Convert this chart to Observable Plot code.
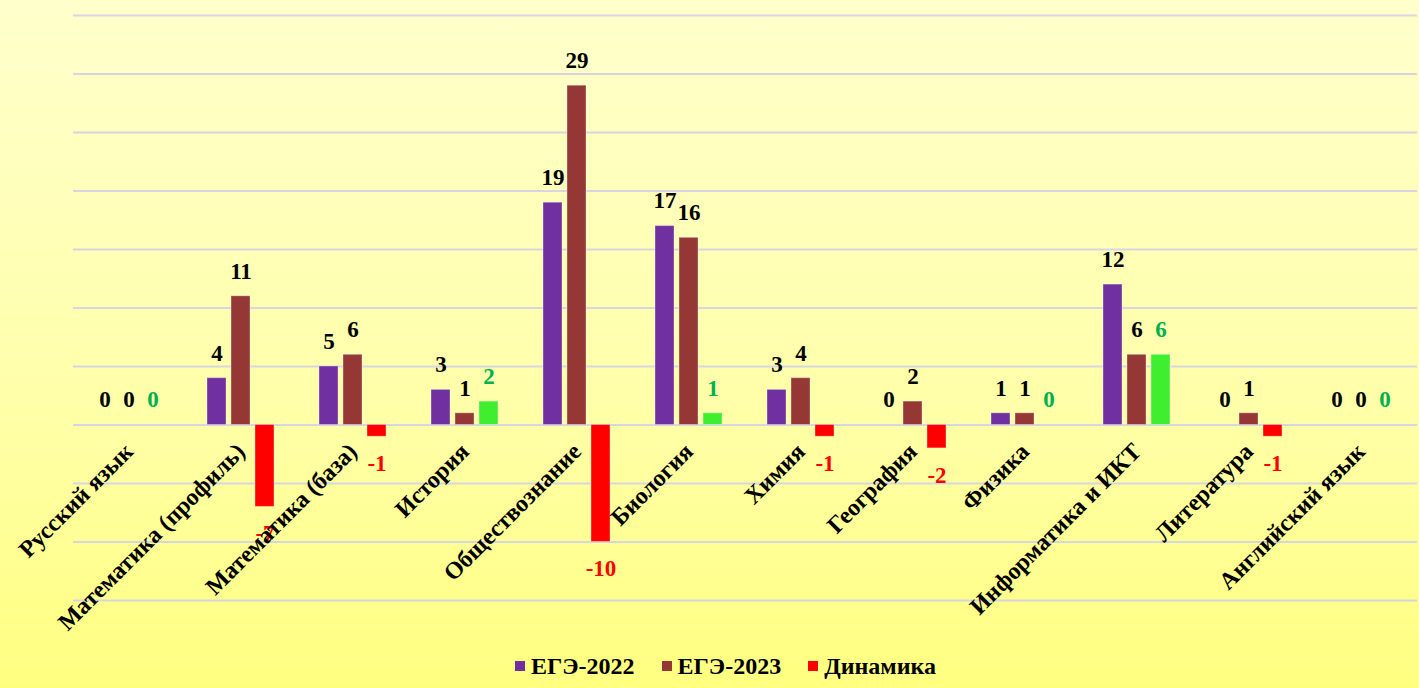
<!DOCTYPE html>
<html>
<head>
<meta charset="utf-8">
<script src="https://cdn.jsdelivr.net/npm/d3@7"></script>
<script src="https://cdn.jsdelivr.net/npm/@observablehq/plot@0.6"></script>
<style>
  html, body { margin: 0; padding: 0; }
  body {
    width: 1419px; height: 688px; overflow: hidden;
    background: linear-gradient(to bottom, #FFFFCC 0%, #FFFFA8 60%, #FFFF80 100%);
  }
  #chart svg { display: block; background: transparent; }
  #legend {
    display: flex; justify-content: center; align-items: center;
    height: 44px; padding-left: 32px; gap: 27px;
  }
  #legend .item { display: flex; align-items: center; gap: 6px; }
  #legend .sw { width: 10px; height: 10px; display: inline-block; }
  #legend .lt { font-family: 'Liberation Serif', serif; font-weight: 700; font-size: 24px; color: #000; }
</style>
</head>
<body>
<div id="chart"></div>
<div id="legend"></div>
<script>
const categories = [
  "Русский язык", "Математика (профиль)", "Математика (база)", "История",
  "Обществознание", "Биология", "Химия", "География", "Физика",
  "Информатика и ИКТ", "Литература", "Английский язык"
];
const seriesNames = ["ЕГЭ-2022", "ЕГЭ-2023", "Динамика"];
const ege2022 = [0, 4, 5, 3, 19, 17, 3, 0, 1, 12, 0, 0];
const ege2023 = [0, 11, 6, 1, 29, 16, 4, 2, 1, 6, 1, 0];
const dinamika = [0, -7, -1, 2, -10, 1, -1, -2, 0, 6, -1, 0];
const gridValues = [-15, -10, -5, 0, 5, 10, 15, 20, 25, 30, 35];

const seriesValues = [ege2022, ege2023, dinamika];
const table = [];
categories.forEach((c, i) => {
  seriesNames.forEach((s, j) => table.push({category: c, series: s, value: seriesValues[j][i]}));
});

const barColor = {"ЕГЭ-2022": "#7030A0", "ЕГЭ-2023": "#953735"};
const fillFor = d => d.series === "Динамика" ? (d.value < 0 ? "#FF0000" : "#40EE30") : barColor[d.series];
const textFor = d => d.series === "Динамика" ? (d.value < 0 ? "#FF0000" : "#00B050") : "#000000";

const chart = Plot.plot({
  width: 1419,
  height: 644,
  marginTop: 15,
  marginBottom: 44,
  marginLeft: 71,
  marginRight: 0,
  style: {background: "transparent", fontFamily: "'Liberation Serif', serif"},
  fx: {domain: categories, padding: 0, axis: null},
  x: {domain: seriesNames, paddingInner: 0.2, paddingOuter: 0.85, axis: null},
  y: {domain: [-15, 35], axis: null},
  color: {type: "identity"},
  marks: [
    Plot.ruleY(gridValues, {stroke: "#D6D6E2", strokeWidth: 2}),
    Plot.barY(table, {fx: "category", x: "series", y: "value", fill: fillFor,
      stroke: "#ffffff", strokeOpacity: 0.35, strokeWidth: 1}),
    Plot.text(table, {fx: "category", x: "series",
      y: "value", text: d => String(d.value),
      fill: textFor, fontWeight: "bold", fontSize: 23,
      filter: d => d.value < 0, dy: 27}),
    Plot.text(categories, {fx: d => d, y: () => 0, text: d => d,
      rotate: -45, textAnchor: "end", lineAnchor: "bottom",
      dx: 5, dy: 28, fontWeight: "bold", fontSize: 24, fill: "#000"}),
    Plot.text(table, {fx: "category", x: "series",
      y: "value", text: d => String(d.value),
      fill: textFor, fontWeight: "bold", fontSize: 23,
      filter: d => d.value >= 0, dy: -25})
  ]
});
document.getElementById("chart").appendChild(chart);

const legendColors = ["#7030A0", "#953735", "#FF0000"];
const legend = document.getElementById("legend");
seriesNames.forEach((s, i) => {
  const item = document.createElement("div");
  item.className = "item";
  const sw = document.createElement("span");
  sw.className = "sw";
  sw.style.background = legendColors[i];
  const t = document.createElement("span");
  t.className = "lt";
  t.style.fontFamily = "'Liberation Serif', serif";
  t.textContent = s;
  item.appendChild(sw); item.appendChild(t);
  legend.appendChild(item);
});
</script>
</body>
</html>
